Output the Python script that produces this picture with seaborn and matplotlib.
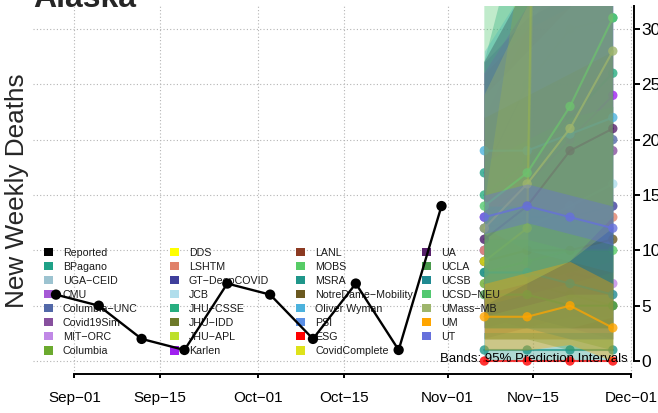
import matplotlib
matplotlib.use("Agg")
import matplotlib.pyplot as plt
import matplotlib.dates as mdates
from matplotlib.patches import Patch
from matplotlib.legend import Legend
import seaborn as sns
import pandas as pd
import numpy as np

sns.set_theme(style="white")
plt.rcParams['font.family'] = ['Liberation Sans', 'DejaVu Sans']

# ---------------- data ----------------
reported_dates = pd.date_range("2020-08-29", periods=10, freq="7D")
reported_values = [6, 5, 2, 1, 7, 6, 2, 7, 1, 14]

forecast_dates = pd.date_range("2020-11-07", periods=4, freq="7D")

legend_labels = ["Reported", "BPagano", "UGA\u2212CEID", "CMU", "Columbia\u2212UNC", "Covid19Sim",
                 "MIT\u2212ORC", "Columbia",
                 "DDS", "LSHTM", "GT\u2212DeepCOVID", "JCB", "JHU\u2212CSSE", "JHU\u2212IDD", "JHU\u2212APL",
                 "Karlen",
                 "LANL", "MOBS", "MSRA", "NotreDame\u2212Mobility", "Oliver Wyman", "PSI", "ESG",
                 "CovidComplete",
                 "UA", "UCLA", "UCSB", "UCSD\u2212NEU", "UMass\u2212MB", "UM", "UT"]
legend_colors = ["#000000", "#1FA187", "#9CC3D0", "#A659D6", "#5268A8", "#87509E", "#C088E6", "#6BAA2E",
                 "#FFFF00", "#E0816A", "#3F3F9C", "#B0DEEC", "#27AE80", "#6E7A2A", "#BDE02B", "#A020F0",
                 "#8C3A22", "#57CC66", "#1F968A", "#6B5920", "#4CB2DD", "#5B8FE5", "#FF0000", "#DEE21A",
                 "#57206B", "#4A9A4C", "#1F8A92", "#52C870", "#9EB56C", "#FFA500", "#6670DC"]

# forecasts, listed in drawing (legend) order
fc_models = ["BPagano", "Columbia\u2212UNC", "Covid19Sim", "MIT\u2212ORC", "Columbia",
             "LSHTM", "GT\u2212DeepCOVID", "JCB", "JHU\u2212CSSE", "Karlen",
             "MOBS", "MSRA", "NotreDame\u2212Mobility", "Oliver Wyman", "ESG", "CovidComplete",
             "UA", "UCLA", "UCSB", "UCSD\u2212NEU", "UMass\u2212MB", "UM", "UT"]
fc_median = [[17, 25, 30, 31], [10, 13, 16, 20], [9, 12, 15, 19], [10, 9, 8, 7], [7, 7, 6, 5],
             [10, 11, 12, 13], [12, 13, 13, 14], [11, 12, 14, 16], [15, 18, 22, 26], [13, 16, 20, 24],
             [8, 9, 10, 10], [1, 1, 1, 1], [9, 10, 10, 11], [19, 19, 20.5, 22], [0, 0, 0, 0],
             [9, 12, 250, 300],
             [11, 14, 19, 21], [6, 6, 5, 5], [8, 8, 7, 6], [14, 17, 23, 31], [12, 16, 21, 28],
             [4, 4, 5, 3], [13, 14, 13, 12]]
fc_lower = [[8, 11, 13, 13], [3, 4, 5, 5], [2, 3, 4, 4], [4, 3, 3, 2], [2, 2, 2, 1],
            [2, 2, 2, 2], [4, 4, 3, 3], [3, 3, 3, 4], [6, 7, 8, 9], [5, 6, 7, 8],
            [3, 3, 3, 3], [0, 0, 0, 0], [3, 3, 3, 3], [12, 10, 9, 8], [0, 0, 0, 0],
            [5, 6, 200, 250],
            [4, 5, 6, 6], [2, 2, 1, 1], [3, 3, 2, 2], [6, 7, 9, 13], [5, 7, 9, 12],
            [1, 1, 1.5, 0], [11.5, 12.5, 11.5, 10.5]]
fc_upper = [[27, 42, 52, 58], [24, 32, 38, 44], [22, 30, 36, 42], [18, 17, 16, 15], [12, 12, 11, 10],
            [26, 30, 32, 34], [27, 31, 33, 35], [24, 28, 32, 36], [27, 34, 40, 46], [26, 32, 38, 44],
            [18, 20, 22, 23], [2.5, 2.5, 2.5, 2.5], [22, 24, 26, 28], [28, 34, 38, 42], [0, 0, 0, 0],
            [14, 40, 400, 500],
            [27, 34, 40, 46], [11, 11, 10, 10], [14, 14, 13, 12], [34, 42, 50, 60], [24, 32, 40, 50],
            [7, 8, 9, 7], [15, 16, 15, 14]]

x_ticks = pd.to_datetime(["2020-09-01", "2020-09-15", "2020-10-01", "2020-10-15",
                          "2020-11-01", "2020-11-15", "2020-12-01"])
x_tick_labels = ["Sep\u221201", "Sep\u221215", "Oct\u221201", "Oct\u221215", "Nov\u221201",
                 "Nov\u221215", "Dec\u221201"]
y_ticks = [0, 5, 10, 15, 20, 25, 30]

# ---------------- figure ----------------
W, H = 658, 413
fig = plt.figure(figsize=(W / 100, H / 100), dpi=100)
L, R, T, B = 33, 634, 6, 374
ax = fig.add_axes([L / W, 1 - B / H, (R - L) / W, (B - T) / H])

color_of = dict(zip(legend_labels, legend_colors))

z = 2.0
for name, med, lo, hi in zip(fc_models, fc_median, fc_lower, fc_upper):
    c = color_of[name]
    ax.fill_between(forecast_dates, lo, hi, color=c, alpha=0.36, lw=0, zorder=z)
    df = pd.DataFrame({"date": forecast_dates, "value": med})
    sns.lineplot(data=df, x="date", y="value", ax=ax, color=c, lw=1.5, alpha=0.75, zorder=z + 0.01)
    sns.scatterplot(data=df, x="date", y="value", ax=ax, color=c, s=45, alpha=0.8,
                    edgecolor="none", zorder=z + 0.02)
    z += 0.05

# reported
rep = pd.DataFrame({"date": reported_dates, "value": reported_values})
sns.lineplot(data=rep, x="date", y="value", ax=ax, color="black", lw=1.7, zorder=6)
sns.scatterplot(data=rep, x="date", y="value", ax=ax, color="black", s=55, edgecolor="none", zorder=7)

ax.set_xlim(pd.Timestamp("2020-08-25 06:00"), pd.Timestamp("2020-12-01 11:00"))
ax.set_ylim(-1.17, 32.07)

ax.set_xticks(x_ticks)
ax.set_xticklabels(x_tick_labels)
ax.set_yticks(y_ticks)
ax.yaxis.tick_right()
ax.set_xlabel("")
ax.set_ylabel("")

for s in ["top", "left"]:
    ax.spines[s].set_visible(False)
ax.spines["bottom"].set_bounds(mdates.date2num(x_ticks[0]), mdates.date2num(x_ticks[-1]))
ax.spines["right"].set_bounds(0, 32.07)
for s in ["bottom", "right"]:
    ax.spines[s].set_color("black")
    ax.spines[s].set_linewidth(1.4)

ax.tick_params(axis="x", direction="out", length=3, width=1.4, colors="black", labelsize=11,
               pad=9, bottom=True)
ax.tick_params(axis="y", direction="out", length=4.3, width=1.4, colors="black", labelsize=12.5,
               pad=1, right=True, left=False)

ax.grid(True, color="#b4b4b4", linestyle=(0, (1, 2)), lw=0.8)
ax.set_axisbelow(True)
ax.set_facecolor("white")

# legend (four columns)
col_rows = [8, 8, 8, 7]
start = 0
for k, n in enumerate(col_rows):
    handles = [Patch(facecolor=legend_colors[i], edgecolor="none", label=legend_labels[i])
               for i in range(start, start + n)]
    labels = legend_labels[start:start + n]
    start += n
    lg = Legend(ax, handles, labels, loc="upper left",
                bbox_to_anchor=((43.5 + 126.3 * k) / W, 1 - 247.5 / H),
                bbox_transform=fig.transFigure, frameon=False, fontsize=7.7,
                handlelength=0.85, handleheight=0.85, handletextpad=0.94,
                labelspacing=0.38, borderpad=0, borderaxespad=0)
    for t in lg.get_texts():
        t.set_color("#1a1a1a")
    lg.set_zorder(5)
    ax.add_artist(lg)

fig.text(628 / W, 1 - 362 / H, "Bands: 95% Prediction Intervals", ha="right", va="baseline",
         fontsize=9.5, color="black", zorder=10)
fig.text(33 / W, 1 - 7 / H, "Alaska", ha="left", va="baseline", fontsize=23, fontweight="bold")
fig.text(17.5 / W, 1 - 190.5 / H, "New Weekly Deaths", rotation=90, ha="center", va="center",
         fontsize=18.8)

fig.savefig("out.png", dpi=100)
